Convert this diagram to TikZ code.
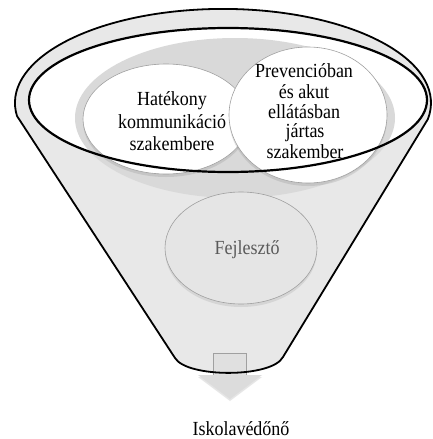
\documentclass[tikz,border=0pt]{standalone}
\usepackage{fontspec}
\setmainfont{Liberation Serif}[FakeStretch=0.9]
\usetikzlibrary{shapes.geometric,shadows}

\definecolor{funnelfill}{HTML}{E8E8E8}
\definecolor{mouthgray}{HTML}{D9D9D9}
\definecolor{bubbleedge}{HTML}{A0A0A0}
\definecolor{devfill}{HTML}{E5E5E5}
\definecolor{devtext}{HTML}{5A5A5A}
\definecolor{stemfill}{HTML}{E0E0E0}
\definecolor{headfill}{HTML}{DCDCDC}

\tikzset{
  bubble/.style={ellipse, draw=bubbleedge, line width=0.6pt, fill=white, inner sep=0pt,
    drop shadow={shadow xshift=0pt, shadow yshift=-3pt, opacity=0.22}},
  devbubble/.style={ellipse, draw=bubbleedge, line width=0.6pt, fill=devfill, inner sep=0pt,
    drop shadow={shadow xshift=0pt, shadow yshift=-3pt, opacity=0.18}},
  word/.style={anchor=base, inner sep=0pt, font=\fontsize{20}{22}\selectfont},
  rim/.style={draw=black, line width=1.8pt, line join=round},
  mouth/.style={draw=black, line width=2.2pt}
}

\begin{document}
\begin{tikzpicture}[x=1pt, y=-1pt]
\useasboundingbox (0,0) rectangle (432,439);

% funnel body
\fill[funnelfill] (17,116) arc[start angle=188, end angle=-10, x radius=208pt, y radius=94pt]
  -- (283,357) .. controls (272,378) and (187,378) .. (175,358) -- cycle;

% open mouth of the funnel
\fill[white] (228,100) ellipse[x radius=199pt, y radius=72pt];
\fill[mouthgray] (235,118) ellipse[x radius=160pt, y radius=80pt];

% the two upper bubbles
\node[bubble, minimum width=166pt, minimum height=110pt] (comm) at (166,119) {};
\node[word] (comm1) at (172,105) {Hatékony};
\node[word] (comm2) at (172,128) {kommunikáció};
\node[word] (comm3) at (172,150) {szakembere};

\node[bubble, minimum width=158pt, minimum height=136pt] (prev) at (308,115) {};
\node[word] (prev1) at (304,77) {Prevencióban};
\node[word] (prev2) at (304,98) {és akut};
\node[word] (prev3) at (304,118) {ellátásban};
\node[word] (prev4) at (305,137) {jártas};
\node[word] (prev5) at (305,158) {szakember};

% rim of the mouth
\draw[mouth] (228,100) ellipse[x radius=199pt, y radius=72pt];

% lower bubble
\node[devbubble, minimum width=152pt, minimum height=112pt] (dev) at (241,248) {};
\node[word, text=devtext] (devtxt) at (247,254) {Fejlesztő};

% outlet arrow stem
\node[rectangle, draw=bubbleedge, line width=0.5pt, fill=stemfill, minimum width=33pt,
  minimum height=23pt, inner sep=0pt] (stem) at (230,364.5) {};

% funnel outline
\draw[rim] (17,116) arc[start angle=188, end angle=-10, x radius=208pt, y radius=94pt]
  -- (283,357) .. controls (272,378) and (187,378) .. (175,358) -- cycle;

% outlet arrow head
\coordinate (headL) at (198,375);
\coordinate (headR) at (262,375);
\coordinate (headT) at (230,399);
\fill[headfill, drop shadow={shadow xshift=0pt, shadow yshift=-2pt, opacity=0.2}]
  (headL) -- (headR) -- (headT) -- cycle;

% result
\node[word] (result) at (241,435) {Iskolavédőnő};
\end{tikzpicture}
\end{document}
